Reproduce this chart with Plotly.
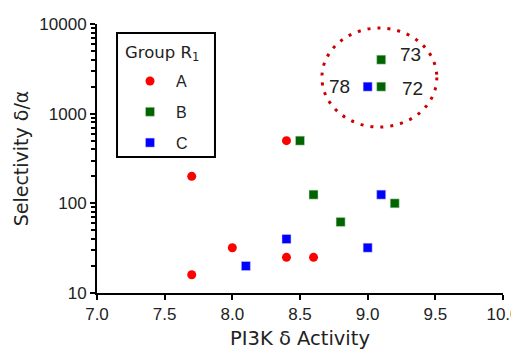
import plotly.graph_objects as go
import numpy as np

# Data
a_x = [7.7, 7.7, 8.0, 8.4, 8.4, 8.6]
a_y = [200, 16, 32, 500, 25, 25]
b_x = [8.5, 8.6, 8.8, 9.2, 9.1, 9.1]
b_y = [500, 125, 62, 100, 4000, 2000]
c_x = [8.1, 8.4, 9.0, 9.1, 9.0]
c_y = [20, 40, 32, 125, 2000]
label_text = ["73", "72", "78"]
label_x = [9.1, 9.1, 9.0]
label_y = [4000, 2000, 2000]
x_ticks = [7.0, 7.5, 8.0, 8.5, 9.0, 9.5, 10.0]
x_ticklabels = ["7.0", "7.5", "8.0", "8.5", "9.0", "9.5", "10.0"]
y_ticks = [10, 100, 1000, 10000]
y_ticklabels = ["10", "100", "1000", "10000"]

fig = go.Figure()
fig.add_trace(go.Scatter(x=a_x, y=a_y, mode="markers", name="A", legendgroup="A",
                         marker=dict(symbol="circle", size=9, color="#FF0000")))
fig.add_trace(go.Scatter(x=b_x, y=b_y, mode="markers", name="B", legendgroup="B",
                         marker=dict(symbol="square", size=9, color="#006400",
                                     line=dict(width=0.5, color="#c8e0c8"))))
fig.add_trace(go.Scatter(x=c_x, y=c_y, mode="markers", name="C", legendgroup="C",
                         marker=dict(symbol="square", size=9, color="#0000FF",
                                     line=dict(width=0.5, color="#c8c8ff"))))

label_shift = [(29, 5), (31, -2), (-28, 0)]
for t, x, y, (dx, dy) in zip(label_text, label_x, label_y, label_shift):
    fig.add_annotation(x=x, y=np.log10(y), text=t, showarrow=False,
                       xshift=dx, yshift=dy,
                       font=dict(family="Liberation Sans", size=19, color="#222"))

# dotted ellipse
fig.add_shape(type="circle", xref="paper", yref="paper",
              x0=0.554, x1=0.837, y0=0.617, y1=0.985,
              line=dict(color="#CC0000", width=3, dash="3px,7px"))

# legend box + title
fig.add_shape(type="rect", xref="paper", yref="paper",
              x0=0.0493, x1=0.2906, y0=0.5056, y1=0.9665,
              line=dict(color="black", width=2), fillcolor="rgba(0,0,0,0)")
fig.add_annotation(xref="paper", yref="paper", x=0.064, y=0.937,
                   xanchor="left",
                   text="Group R<sub>1</sub>", showarrow=False,
                   font=dict(family="DejaVu Sans", size=16.5, color="#222"))

fig.update_layout(
    width=511, height=342,
    margin=dict(l=89, r=16, t=16, b=57),
    plot_bgcolor="white", paper_bgcolor="white",
    showlegend=True,
    legend=dict(
        x=0.0665, y=0.851, xanchor="left", yanchor="top",
        borderwidth=0, bgcolor="rgba(0,0,0,0)",
        font=dict(family="Liberation Sans", size=16, color="#222"),
        tracegroupgap=7, itemwidth=42,
    ),
    xaxis=dict(
        range=[7, 10], tickvals=x_ticks, ticktext=x_ticklabels, automargin=False,
        showline=True, linecolor="black", linewidth=2,
        ticks="outside", ticklen=5, tickwidth=2, tickcolor="black",
        showgrid=False, zeroline=False, ticklabeloverflow="allow",
        tickfont=dict(family="Liberation Sans", size=17, color="#222"),
        title=dict(text="PI3K δ Activity", font=dict(family="DejaVu Sans", size=19.5, color="#222"), standoff=10),
    ),
    yaxis=dict(
        type="log", range=[1, 4], tickmode="array", tickvals=y_ticks, ticktext=y_ticklabels,
        automargin=False,
        showline=True, linecolor="black", linewidth=2,
        ticks="outside", ticklen=5, tickwidth=2, tickcolor="black",
        minor=dict(ticks="outside", ticklen=4, tickwidth=1.5, tickcolor="black",
                   showgrid=False, dtick="D1"),
        showgrid=False, zeroline=False, ticklabeloverflow="allow",
        tickfont=dict(family="Liberation Sans", size=17, color="#222"),
        title=dict(text="Selectivity δ/α", font=dict(family="DejaVu Sans", size=19, color="#222"), standoff=6),
    ),
)

fig.write_html("out.html")
